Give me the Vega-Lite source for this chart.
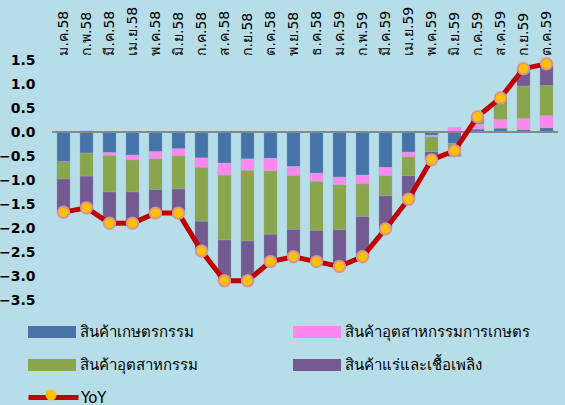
{
  "$schema": "https://vega.github.io/schema/vega-lite/v6.json",
  "width": 506,
  "height": 240,
  "autosize": {"type": "none"},
  "padding": {"left": 52, "top": 60, "right": 7, "bottom": 105},
  "background": "#b7dee8",
  "config": {
    "view": {"stroke": null},
    "font": "DejaVu Sans",
    "axisY": {
      "title": null,
      "format": ".1f",
      "tickCount": 11,
      "labelFontSize": 14,
      "labelFontWeight": "bold",
      "labelColor": "#000000",
      "labelPadding": 17,
      "labelOverlap": false,
      "labelBound": false,
      "labelFlush": false,
      "ticks": false,
      "tickSize": 0,
      "domain": false,
      "grid": false
    }
  },
  "datasets": {
    "bars": [
      {"m": "ม.ค.58", "c": "สินค้าเกษตรกรรม", "k": 1, "v": -0.62},
      {"m": "ม.ค.58", "c": "สินค้าอุตสาหกรรมการเกษตร", "k": 2, "v": 0.0},
      {"m": "ม.ค.58", "c": "สินค้าอุตสาหกรรม", "k": 3, "v": -0.36},
      {"m": "ม.ค.58", "c": "สินค้าแร่และเชื้อเพลิง", "k": 4, "v": -0.69},
      {"m": "ก.พ.58", "c": "สินค้าเกษตรกรรม", "k": 1, "v": -0.44},
      {"m": "ก.พ.58", "c": "สินค้าอุตสาหกรรมการเกษตร", "k": 2, "v": 0.03},
      {"m": "ก.พ.58", "c": "สินค้าอุตสาหกรรม", "k": 3, "v": -0.48},
      {"m": "ก.พ.58", "c": "สินค้าแร่และเชื้อเพลิง", "k": 4, "v": -0.69},
      {"m": "มี.ค.58", "c": "สินค้าเกษตรกรรม", "k": 1, "v": -0.43},
      {"m": "มี.ค.58", "c": "สินค้าอุตสาหกรรมการเกษตร", "k": 2, "v": -0.06},
      {"m": "มี.ค.58", "c": "สินค้าอุตสาหกรรม", "k": 3, "v": -0.76},
      {"m": "มี.ค.58", "c": "สินค้าแร่และเชื้อเพลิง", "k": 4, "v": -0.65},
      {"m": "เม.ย.58", "c": "สินค้าเกษตรกรรม", "k": 1, "v": -0.48},
      {"m": "เม.ย.58", "c": "สินค้าอุตสาหกรรมการเกษตร", "k": 2, "v": -0.10},
      {"m": "เม.ย.58", "c": "สินค้าอุตสาหกรรม", "k": 3, "v": -0.67},
      {"m": "เม.ย.58", "c": "สินค้าแร่และเชื้อเพลิง", "k": 4, "v": -0.65},
      {"m": "พ.ค.58", "c": "สินค้าเกษตรกรรม", "k": 1, "v": -0.41},
      {"m": "พ.ค.58", "c": "สินค้าอุตสาหกรรมการเกษตร", "k": 2, "v": -0.15},
      {"m": "พ.ค.58", "c": "สินค้าอุตสาหกรรม", "k": 3, "v": -0.64},
      {"m": "พ.ค.58", "c": "สินค้าแร่และเชื้อเพลิง", "k": 4, "v": -0.49},
      {"m": "มิ.ย.58", "c": "สินค้าเกษตรกรรม", "k": 1, "v": -0.35},
      {"m": "มิ.ย.58", "c": "สินค้าอุตสาหกรรมการเกษตร", "k": 2, "v": -0.15},
      {"m": "มิ.ย.58", "c": "สินค้าอุตสาหกรรม", "k": 3, "v": -0.69},
      {"m": "มิ.ย.58", "c": "สินค้าแร่และเชื้อเพลิง", "k": 4, "v": -0.50},
      {"m": "ก.ค.58", "c": "สินค้าเกษตรกรรม", "k": 1, "v": -0.54},
      {"m": "ก.ค.58", "c": "สินค้าอุตสาหกรรมการเกษตร", "k": 2, "v": -0.20},
      {"m": "ก.ค.58", "c": "สินค้าอุตสาหกรรม", "k": 3, "v": -1.12},
      {"m": "ก.ค.58", "c": "สินค้าแร่และเชื้อเพลิง", "k": 4, "v": -0.62},
      {"m": "ส.ค.58", "c": "สินค้าเกษตรกรรม", "k": 1, "v": -0.65},
      {"m": "ส.ค.58", "c": "สินค้าอุตสาหกรรมการเกษตร", "k": 2, "v": -0.25},
      {"m": "ส.ค.58", "c": "สินค้าอุตสาหกรรม", "k": 3, "v": -1.35},
      {"m": "ส.ค.58", "c": "สินค้าแร่และเชื้อเพลิง", "k": 4, "v": -0.86},
      {"m": "ก.ย.58", "c": "สินค้าเกษตรกรรม", "k": 1, "v": -0.56},
      {"m": "ก.ย.58", "c": "สินค้าอุตสาหกรรมการเกษตร", "k": 2, "v": -0.24},
      {"m": "ก.ย.58", "c": "สินค้าอุตสาหกรรม", "k": 3, "v": -1.47},
      {"m": "ก.ย.58", "c": "สินค้าแร่และเชื้อเพลิง", "k": 4, "v": -0.83},
      {"m": "ต.ค.58", "c": "สินค้าเกษตรกรรม", "k": 1, "v": -0.55},
      {"m": "ต.ค.58", "c": "สินค้าอุตสาหกรรมการเกษตร", "k": 2, "v": -0.26},
      {"m": "ต.ค.58", "c": "สินค้าอุตสาหกรรม", "k": 3, "v": -1.32},
      {"m": "ต.ค.58", "c": "สินค้าแร่และเชื้อเพลิง", "k": 4, "v": -0.57},
      {"m": "พ.ย.58", "c": "สินค้าเกษตรกรรม", "k": 1, "v": -0.72},
      {"m": "พ.ย.58", "c": "สินค้าอุตสาหกรรมการเกษตร", "k": 2, "v": -0.19},
      {"m": "พ.ย.58", "c": "สินค้าอุตสาหกรรม", "k": 3, "v": -1.12},
      {"m": "พ.ย.58", "c": "สินค้าแร่และเชื้อเพลิง", "k": 4, "v": -0.57},
      {"m": "ธ.ค.58", "c": "สินค้าเกษตรกรรม", "k": 1, "v": -0.86},
      {"m": "ธ.ค.58", "c": "สินค้าอุตสาหกรรมการเกษตร", "k": 2, "v": -0.17},
      {"m": "ธ.ค.58", "c": "สินค้าอุตสาหกรรม", "k": 3, "v": -1.02},
      {"m": "ธ.ค.58", "c": "สินค้าแร่และเชื้อเพลิง", "k": 4, "v": -0.65},
      {"m": "ม.ค.59", "c": "สินค้าเกษตรกรรม", "k": 1, "v": -0.94},
      {"m": "ม.ค.59", "c": "สินค้าอุตสาหกรรมการเกษตร", "k": 2, "v": -0.16},
      {"m": "ม.ค.59", "c": "สินค้าอุตสาหกรรม", "k": 3, "v": -0.94},
      {"m": "ม.ค.59", "c": "สินค้าแร่และเชื้อเพลิง", "k": 4, "v": -0.76},
      {"m": "ก.พ.59", "c": "สินค้าเกษตรกรรม", "k": 1, "v": -0.90},
      {"m": "ก.พ.59", "c": "สินค้าอุตสาหกรรมการเกษตร", "k": 2, "v": -0.18},
      {"m": "ก.พ.59", "c": "สินค้าอุตสาหกรรม", "k": 3, "v": -0.68},
      {"m": "ก.พ.59", "c": "สินค้าแร่และเชื้อเพลิง", "k": 4, "v": -0.84},
      {"m": "มี.ค.59", "c": "สินค้าเกษตรกรรม", "k": 1, "v": -0.74},
      {"m": "มี.ค.59", "c": "สินค้าอุตสาหกรรมการเกษตร", "k": 2, "v": -0.17},
      {"m": "มี.ค.59", "c": "สินค้าอุตสาหกรรม", "k": 3, "v": -0.42},
      {"m": "มี.ค.59", "c": "สินค้าแร่และเชื้อเพลิง", "k": 4, "v": -0.69},
      {"m": "เม.ย.59", "c": "สินค้าเกษตรกรรม", "k": 1, "v": -0.42},
      {"m": "เม.ย.59", "c": "สินค้าอุตสาหกรรมการเกษตร", "k": 2, "v": -0.10},
      {"m": "เม.ย.59", "c": "สินค้าอุตสาหกรรม", "k": 3, "v": -0.39},
      {"m": "เม.ย.59", "c": "สินค้าแร่และเชื้อเพลิง", "k": 4, "v": -0.49},
      {"m": "พ.ค.59", "c": "สินค้าเกษตรกรรม", "k": 1, "v": -0.07},
      {"m": "พ.ค.59", "c": "สินค้าอุตสาหกรรมการเกษตร", "k": 2, "v": -0.03},
      {"m": "พ.ค.59", "c": "สินค้าอุตสาหกรรม", "k": 3, "v": -0.31},
      {"m": "พ.ค.59", "c": "สินค้าแร่และเชื้อเพลิง", "k": 4, "v": -0.17},
      {"m": "มิ.ย.59", "c": "สินค้าเกษตรกรรม", "k": 1, "v": -0.24},
      {"m": "มิ.ย.59", "c": "สินค้าอุตสาหกรรมการเกษตร", "k": 2, "v": 0.10},
      {"m": "มิ.ย.59", "c": "สินค้าอุตสาหกรรม", "k": 3, "v": -0.26},
      {"m": "มิ.ย.59", "c": "สินค้าแร่และเชื้อเพลิง", "k": 4, "v": -0.01},
      {"m": "ก.ค.59", "c": "สินค้าเกษตรกรรม", "k": 1, "v": 0.06},
      {"m": "ก.ค.59", "c": "สินค้าอุตสาหกรรมการเกษตร", "k": 2, "v": 0.10},
      {"m": "ก.ค.59", "c": "สินค้าอุตสาหกรรม", "k": 3, "v": 0.14},
      {"m": "ก.ค.59", "c": "สินค้าแร่และเชื้อเพลิง", "k": 4, "v": 0.02},
      {"m": "ส.ค.59", "c": "สินค้าเกษตรกรรม", "k": 1, "v": 0.08},
      {"m": "ส.ค.59", "c": "สินค้าอุตสาหกรรมการเกษตร", "k": 2, "v": 0.18},
      {"m": "ส.ค.59", "c": "สินค้าอุตสาหกรรม", "k": 3, "v": 0.38},
      {"m": "ส.ค.59", "c": "สินค้าแร่และเชื้อเพลิง", "k": 4, "v": 0.06},
      {"m": "ก.ย.59", "c": "สินค้าเกษตรกรรม", "k": 1, "v": 0.05},
      {"m": "ก.ย.59", "c": "สินค้าอุตสาหกรรมการเกษตร", "k": 2, "v": 0.23},
      {"m": "ก.ย.59", "c": "สินค้าอุตสาหกรรม", "k": 3, "v": 0.68},
      {"m": "ก.ย.59", "c": "สินค้าแร่และเชื้อเพลิง", "k": 4, "v": 0.35},
      {"m": "ต.ค.59", "c": "สินค้าเกษตรกรรม", "k": 1, "v": 0.09},
      {"m": "ต.ค.59", "c": "สินค้าอุตสาหกรรมการเกษตร", "k": 2, "v": 0.25},
      {"m": "ต.ค.59", "c": "สินค้าอุตสาหกรรม", "k": 3, "v": 0.63},
      {"m": "ต.ค.59", "c": "สินค้าแร่และเชื้อเพลิง", "k": 4, "v": 0.45}
    ],
    "yoy": [
      {"m": "ม.ค.58", "s": "YoY", "y": -1.67},
      {"m": "ก.พ.58", "s": "YoY", "y": -1.58},
      {"m": "มี.ค.58", "s": "YoY", "y": -1.90},
      {"m": "เม.ย.58", "s": "YoY", "y": -1.90},
      {"m": "พ.ค.58", "s": "YoY", "y": -1.69},
      {"m": "มิ.ย.58", "s": "YoY", "y": -1.69},
      {"m": "ก.ค.58", "s": "YoY", "y": -2.48},
      {"m": "ส.ค.58", "s": "YoY", "y": -3.10},
      {"m": "ก.ย.58", "s": "YoY", "y": -3.10},
      {"m": "ต.ค.58", "s": "YoY", "y": -2.70},
      {"m": "พ.ย.58", "s": "YoY", "y": -2.60},
      {"m": "ธ.ค.58", "s": "YoY", "y": -2.70},
      {"m": "ม.ค.59", "s": "YoY", "y": -2.80},
      {"m": "ก.พ.59", "s": "YoY", "y": -2.60},
      {"m": "มี.ค.59", "s": "YoY", "y": -2.02},
      {"m": "เม.ย.59", "s": "YoY", "y": -1.40},
      {"m": "พ.ค.59", "s": "YoY", "y": -0.58},
      {"m": "มิ.ย.59", "s": "YoY", "y": -0.39},
      {"m": "ก.ค.59", "s": "YoY", "y": 0.32},
      {"m": "ส.ค.59", "s": "YoY", "y": 0.71},
      {"m": "ก.ย.59", "s": "YoY", "y": 1.32},
      {"m": "ต.ค.59", "s": "YoY", "y": 1.42}
    ]
  },
  "encoding": {
    "x": {
      "field": "m",
      "type": "ordinal",
      "scale": {
        "domain": ["ม.ค.58", "ก.พ.58", "มี.ค.58", "เม.ย.58", "พ.ค.58", "มิ.ย.58", "ก.ค.58", "ส.ค.58", "ก.ย.58", "ต.ค.58", "พ.ย.58", "ธ.ค.58", "ม.ค.59", "ก.พ.59", "มี.ค.59", "เม.ย.59", "พ.ค.59", "มิ.ย.59", "ก.ค.59", "ส.ค.59", "ก.ย.59", "ต.ค.59"],
        "paddingInner": 0.43,
        "paddingOuter": 0.215
      },
      "axis": {
        "orient": "top",
        "title": null,
        "labelAngle": 270,
        "labelAlign": "left",
        "labelBaseline": "middle",
        "labelFontSize": 14,
        "labelColor": "#000000",
        "labelPadding": 5,
        "ticks": false,
        "tickSize": 0,
        "domain": false
      }
    }
  },
  "layer": [
    {
      "data": {"name": "bars"},
      "mark": {"type": "bar", "stroke": "#9fb8d0", "strokeWidth": 0.5, "strokeOpacity": 0.6},
      "encoding": {
        "y": {
          "field": "v",
          "type": "quantitative",
          "stack": "zero",
          "title": null,
          "scale": {"domain": [-3.5, 1.5], "nice": false, "zero": false},
          "axis": {"values": [1.5, 1.0, 0.5, 0.0, -0.5, -1.0, -1.5, -2.0, -2.5, -3.0, -3.5], "labelOverlap": false}
        },
        "color": {
          "field": "c",
          "type": "nominal",
          "scale": {
            "domain": ["สินค้าเกษตรกรรม", "สินค้าอุตสาหกรรมการเกษตร", "สินค้าอุตสาหกรรม", "สินค้าแร่และเชื้อเพลิง"],
            "range": ["#4674a8", "#ff88ee", "#8aa64d", "#735a90"]
          },
          "legend": {
            "title": null,
            "orient": "none",
            "direction": "horizontal",
            "legendX": -24,
            "legendY": 248,
            "columns": 2,
            "columnPadding": 95,
            "rowPadding": 1,
            "padding": 0,
            "symbolType": "M-1,-0.25H1V0.25H-1Z",
            "symbolSize": 2304,
            "symbolStrokeWidth": 0,
            "labelOffset": 4,
            "labelFontSize": 15,
            "labelColor": "#000000",
            "labelLimit": 400
          }
        },
        "order": {"field": "k", "type": "quantitative"}
      }
    },
    {
      "data": {"values": [{"z": 0}]},
      "mark": {"type": "rule", "color": "#888888", "strokeWidth": 2},
      "encoding": {"y": {"field": "z", "type": "quantitative", "title": null, "axis": {"values": [1.5, 1.0, 0.5, 0.0, -0.5, -1.0, -1.5, -2.0, -2.5, -3.0, -3.5], "labelOverlap": false}}, "x": {}}
    },
    {
      "data": {"name": "yoy"},
      "mark": {"type": "line", "strokeWidth": 5},
      "encoding": {
        "y": {"field": "y", "type": "quantitative", "title": null, "axis": {"values": [1.5, 1.0, 0.5, 0.0, -0.5, -1.0, -1.5, -2.0, -2.5, -3.0, -3.5], "labelOverlap": false}},
        "stroke": {
          "field": "s",
          "type": "nominal",
          "scale": {"domain": ["YoY"], "range": ["#c00000"]},
          "legend": {
            "title": null,
            "orient": "none",
            "legendX": -26,
            "legendY": 310,
            "padding": 0,
            "symbolType": "stroke",
            "symbolSize": 2500,
            "symbolStrokeWidth": 5,
            "labelOffset": 0,
            "labelFontSize": 15,
            "labelColor": "#000000"
          }
        }
      }
    },
    {
      "data": {"name": "yoy"},
      "mark": {"type": "point", "filled": true, "size": 130, "fill": "#ffc000", "stroke": "#d99594", "strokeWidth": 2, "opacity": 1},
      "encoding": {
        "y": {"field": "y", "type": "quantitative", "title": null, "axis": {"values": [1.5, 1.0, 0.5, 0.0, -0.5, -1.0, -1.5, -2.0, -2.5, -3.0, -3.5], "labelOverlap": false}},
        "shape": {
          "field": "s",
          "type": "nominal",
          "scale": {"domain": ["YoY", "-"], "range": ["circle", "circle"]},
          "legend": {
            "title": null,
            "orient": "none",
            "values": ["YoY"],
            "legendX": -7.5,
            "legendY": 328.5,
            "padding": 0,
            "symbolSize": 121,
            "symbolFillColor": "#ffc000",
            "symbolStrokeColor": "#d99594",
            "symbolStrokeWidth": 2,
            "labelExpr": "''",
            "labelOffset": 0
          }
        }
      }
    }
  ]
}
